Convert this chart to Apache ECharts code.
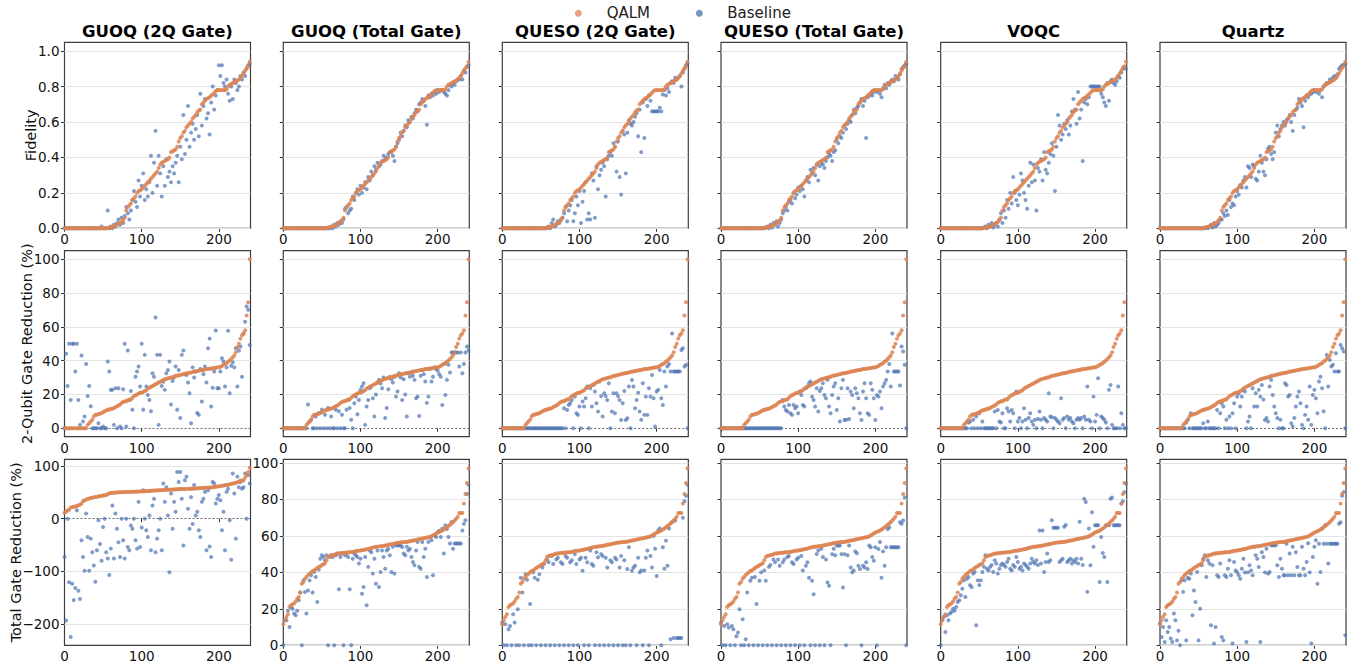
<!DOCTYPE html>
<html>
<head>
<meta charset="utf-8">
<script src="https://cdn.jsdelivr.net/npm/echarts@6/dist/echarts.min.js"></script>
<style>
  html, body { margin: 0; padding: 0; background: #fff; }
  #chart { width: 1355px; height: 663px; }
</style>
</head>
<body>
<div id="chart"></div>
<script>
// circuits are sorted by QALM value, one value every 2nd circuit index
const STEP = 2;

const methods = ['GUOQ (2Q Gate)', 'GUOQ (Total Gate)', 'QUESO (2Q Gate)', 'QUESO (Total Gate)', 'VOQC', 'Quartz'];
const rowLabels = ['Fidelity', '2-Qubit Gate Reduction (%)', 'Total Gate Reduction (%)'];
const legendNames = ['QALM', 'Baseline'];

const xTicks = [0, 100, 200];
const fidTicks = [0, 0.2, 0.4, 0.6, 0.8, 1.0];
const redTicks = [0, 20, 40, 60, 80, 100];
const totTicksWide = [-200, -100, 0, 100];

// ---- Fidelity ----
const fidQalm = [
  0,0,0,0,0,0,0,0,0,0,
  0,0,0,0,0,0,0,0,0,0,
  0,0,0,0,0,0,0,0,0.002,0.004,
  0.006,0.008,0.01,0.015,0.02,0.025,0.03,0.035,0.045,0.06,
  0.1,0.12,0.13,0.14,0.16,0.17,0.18,0.2,0.21,0.215,
  0.22,0.23,0.24,0.25,0.26,0.27,0.28,0.29,0.3,0.31,
  0.32,0.34,0.36,0.37,0.375,0.38,0.385,0.39,0.4,0.43,
  0.435,0.44,0.445,0.46,0.49,0.51,0.52,0.54,0.55,0.57,
  0.58,0.59,0.6,0.62,0.63,0.64,0.655,0.665,0.67,0.7,
  0.71,0.72,0.73,0.735,0.74,0.75,0.755,0.765,0.775,0.78,
  0.78,0.78,0.78,0.78,0.78,0.785,0.8,0.81,0.815,0.82,
  0.825,0.83,0.835,0.84,0.85,0.86,0.875,0.89,0.905,0.915,
  0.94
];
const fidGuoq2q = [
  0,0,0,0,0,0,0,0,0,0,
  0,0,0,0,0,0,0,0,0,0,
  0,0,0,0,0.01,0,0,0,0.1,0,
  0.01,0,0.02,0.01,0.03,0.05,0.02,0.06,0.03,0.07,
  0.12,0.085,0.05,0.1,0.16,0.21,0.15,0.12,0.27,0.18,
  0.24,0.31,0.16,0.22,0.18,0.26,0.41,0.2,0.37,0.55,
  0.24,0.41,0.31,0.18,0.35,0.24,0.39,0.29,0.32,0.26,
  0.35,0.31,0.37,0.41,0.26,0.46,0.39,0.64,0.42,0.5,
  0.69,0.46,0.54,0.59,0.5,0.56,0.64,0.52,0.76,0.58,
  0.69,0.73,0.62,0.65,0.53,0.71,0.8,0.67,0.75,0.78,
  0.92,0.86,0.92,0.82,0.8,0.84,0.76,0.72,0.8,0.73,
  0.84,0.82,0.78,0.8,0.86,0.84,0.88,0.86,0.9,0.92,
  0.93
];
const fidGuoqTot = [
  0,0,0,0,0,0,0,0,0,0,
  0,0,0,0,0,0,0,0,0,0,
  0,0,0,0,0,0,0,0,0,0,
  0,0.01,0,0.02,0.01,0.03,0.02,0.04,0.03,0.05,
  0.11,0.12,0.085,0.1,0.11,0.18,0.16,0.2,0.22,0.19,
  0.24,0.2,0.23,0.26,0.22,0.29,0.27,0.32,0.3,0.35,
  0.33,0.37,0.35,0.36,0.38,0.41,0.39,0.4,0.42,0.43,
  0.43,0.41,0.38,0.46,0.48,0.5,0.54,0.52,0.55,0.58,
  0.57,0.61,0.6,0.63,0.62,0.65,0.67,0.66,0.7,0.71,
  0.73,0.72,0.69,0.585,0.75,0.74,0.76,0.75,0.77,0.76,
  0.78,0.77,0.78,0.78,0.77,0.76,0.75,0.78,0.81,0.8,
  0.82,0.81,0.83,0.84,0.84,0.86,0.84,0.89,0.88,0.91,
  0.92
];
const fidQueso2q = [
  0,0,0,0,0,0,0,0,0,0,
  0,0,0,0,0,0,0,0,0,0,
  0,0,0,0,0,0,0,0,0,0,
  0.01,0,0.03,0.05,0.01,0.02,0.04,0.03,0.05,0.06,
  0.085,0.12,0.04,0.1,0.13,0.16,0.04,0.085,0.18,0.13,
  0.21,0.03,0.15,0.21,0.26,0.05,0.085,0.05,0.31,0.27,
  0.06,0.35,0.22,0.3,0.33,0.37,0.35,0.18,0.39,0.41,
  0.43,0.41,0.48,0.46,0.32,0.49,0.29,0.19,0.55,0.53,
  0.31,0.54,0.61,0.59,0.58,0.6,0.63,0.65,0.52,0.67,
  0.43,0.71,0.51,0.73,0.69,0.75,0.72,0.66,0.66,0.66,
  0.66,0.66,0.68,0.66,0.755,0.78,0.75,0.79,0.77,0.82,
  0.83,0.82,0.85,0.84,0.85,0.86,0.8,0.88,0.9,0.92,
  0.93
];
const fidQuesoTot = [
  0,0,0,0,0,0,0,0,0,0,
  0,0,0,0,0,0,0,0,0,0,
  0,0,0,0,0,0,0,0,0,0.005,
  0.01,0,0.02,0.005,0.03,0.02,0.04,0.01,0.03,0.05,
  0.085,0.1,0.12,0.1,0.15,0.16,0.14,0.2,0.17,0.19,
  0.23,0.21,0.24,0.22,0.18,0.27,0.29,0.26,0.33,0.31,
  0.34,0.3,0.36,0.27,0.35,0.37,0.36,0.34,0.38,0.4,
  0.42,0.41,0.38,0.43,0.44,0.5,0.48,0.52,0.51,0.54,
  0.58,0.56,0.59,0.61,0.6,0.64,0.67,0.65,0.68,0.69,
  0.71,0.73,0.69,0.72,0.51,0.74,0.75,0.76,0.75,0.77,
  0.78,0.77,0.78,0.76,0.74,0.79,0.81,0.79,0.82,0.81,
  0.83,0.84,0.83,0.86,0.85,0.84,0.87,0.9,0.91,0.92,
  0.93
];
const fidVoqc = [
  0,0,0,0,0,0,0,0,0,0,
  0,0,0,0,0,0,0,0,0,0,
  0,0,0,0,0,0,0,0,0.005,0.01,
  0,0.02,0.01,0.03,0.005,0.02,0.03,0.01,0.05,0.085,
  0.03,0.1,0.06,0.16,0.11,0.2,0.14,0.29,0.2,0.16,
  0.13,0.19,0.31,0.27,0.2,0.16,0.11,0.24,0.37,0.26,
  0.36,0.27,0.1,0.34,0.32,0.39,0.27,0.43,0.33,0.31,
  0.37,0.42,0.48,0.41,0.21,0.46,0.64,0.58,0.5,0.53,
  0.59,0.56,0.61,0.53,0.58,0.66,0.73,0.67,0.59,0.77,
  0.62,0.67,0.38,0.71,0.73,0.7,0.74,0.8,0.8,0.8,
  0.8,0.8,0.8,0.8,0.76,0.74,0.71,0.69,0.82,0.72,
  0.83,0.84,0.82,0.81,0.83,0.86,0.85,0.88,0.9,0.91,
  0.9
];
const fidQuartz = [
  0,0,0,0,0,0,0,0,0,0,
  0,0,0,0,0,0,0,0,0,0,
  0,0,0,0,0,0,0,0,0,0,
  0.005,0,0.01,0.02,0.005,0.03,0.01,0.02,0.03,0.05,
  0.05,0.085,0.07,0.1,0.075,0.16,0.12,0.14,0.13,0.18,
  0.21,0.19,0.245,0.23,0.27,0.29,0.23,0.35,0.34,0.29,
  0.36,0.35,0.28,0.27,0.32,0.41,0.37,0.32,0.3,0.39,
  0.45,0.46,0.42,0.39,0.43,0.54,0.58,0.52,0.56,0.58,
  0.6,0.58,0.61,0.62,0.64,0.6,0.55,0.64,0.67,0.68,
  0.73,0.71,0.69,0.57,0.72,0.75,0.74,0.76,0.76,0.77,
  0.78,0.77,0.78,0.76,0.78,0.74,0.8,0.81,0.82,0.82,
  0.84,0.83,0.85,0.86,0.85,0.87,0.9,0.91,0.92,0.92,
  0.93
];

// ---- 2-qubit gate reduction (%) ----
const twoqQalm = [
  0,0,0,0,0,0,0,0,0,0,
  0,0,0,0,0,2,3,4,5,7,
  8,8,8.5,8.5,9,9.5,10,10.5,11,11,
  11.5,11.5,12,12.5,13,13.5,14,15,15.5,16,
  16,16.5,17,17,18,19,19.5,20,20.5,21,
  21,21.5,22,22.5,23.5,24,24.5,25,25.5,26,
  26.5,27,27.5,28,28.5,29,29.2,29.5,29.7,30,
  30.2,30.5,31,31,31.3,31.5,31.8,32,32.2,32.5,
  32.5,32.8,33,33.2,33.5,33.5,33.8,34,34.2,34.5,
  34.5,34.8,35,35,35.2,35.3,35.5,35.6,35.8,36,
  36,36.3,36.8,37.5,38,38.5,39.5,40,41,42,
  43,45,48,50,53,55,56,58,66.7,74.5,
  100
];
const twoqGuoq2q = [
  0,44,25,50,16.7,50,50,33.5,50,16.7,
  2,43,4,7,38,19,25,13,0,0,
  0,0,3,0,0,1,0,0,39.5,33.5,
  22.7,22.7,2,23.7,0,23.7,1,0,23,50,
  1,46,16.7,22,11,0,30.5,33.5,36.5,24.7,
  50,11,43.4,24.7,19.7,16.7,10,32.5,30.5,65.5,
  43.4,2,43.4,25,27.5,22.7,32.5,34.5,39.5,14,
  28,30,36.5,11,34.5,6,43.4,46,32,31.5,
  27,20.7,3,36,30,33.5,9,8,35,15.8,
  32,36.5,27,47.3,53,12.8,24,33.5,57.8,23.7,
  23.7,33.5,41.4,39.5,24.7,36,57.6,20.7,37,39,
  36,47.3,24.7,46,48.3,30.5,56,63,72,70,
  49.3
];
const twoqGuoqTot = [
  0,0,0,0,0,0,0,0,0,0,
  0,0,0,0,0,0,14,4,5,0,
  0,7,0,9,0,11,0,8,0,12,
  0,7,0,0,11,0,10,0,8,0,
  0,11,16.7,12,5,0,14.8,18.7,8.3,16.7,
  22.7,24.7,26.6,2,12.8,16.7,23.7,24.7,17.7,7,
  20,27,28.6,26.5,23.7,30,6,12,23,30.5,
  29,27,30.5,18.7,21.7,32.5,30,16.7,29,20,
  7,32.5,30.5,33,31,28.6,17.7,18.7,7.3,31,
  34.5,32,27.6,15,18.7,35,27.6,30.5,36,35,
  34,32,30.5,13.8,38,19.7,28.6,37.5,33,44.8,
  44.8,44.8,44.8,44.8,36.5,44.8,32.5,38,44.8,48.3,
  46
];
const twoqQueso2q = [
  0,0,0,0,0,0,0,0,0,0,
  0,0,0,0,0,0,0,0,0,0,
  0,0,0,0,0,0,0,0,0,0,
  0,0,0,0,0,0,0,0,0,0,
  11.8,0,10.8,13.8,14.8,16.7,0,18.7,8.9,7.9,
  12.8,0,15.8,12.8,17.7,24.7,0,23.7,12.8,25.6,
  21.7,14.8,9.9,27.6,19,6.9,20.7,19,16.7,26.6,
  0,9.9,20.7,8.9,20.7,19,16.7,4.9,14.8,22,
  4.9,5.9,24.7,0,28.6,24.7,11.8,16.7,21,9.9,
  5,26.6,7.9,18.7,7.9,23.7,18.7,31.5,17.7,1,
  21.7,22.7,34.5,17.7,13.8,33.5,24.7,36.5,38,33.5,
  56,33.5,33.5,33.5,33.5,33.5,46.3,47.3,36.5,37.5,
  0
];
const twoqQuesoTot = [
  0,0,0,0,0,0,0,0,0,0,
  0,0,0,0,0,0,0,0,0,0,
  0,0,0,0,0,0,0,0,0,0,
  0,0,0,0,0,0,0,0,0,0,
  16.7,12.8,10.8,9.9,13.8,8.9,7.9,13.8,11.8,12.8,
  8.9,21.7,19.7,13.8,12.8,23.7,24.7,26.6,27.6,18.7,
  16.7,12.8,23.7,9.9,22,23.7,26.6,19.7,17.7,28.6,
  12.8,8.9,19.7,24.7,26.6,10.8,17.7,4,23.7,28.6,
  4.9,5,23.7,5.5,21.7,19.7,11.8,23.7,20.7,17.7,
  8.9,4.9,21.7,26.6,17.7,8.9,7.9,26.6,22.7,17.7,
  4.9,19.7,18.7,21.7,11.8,24.7,26.6,28.6,33.5,38,
  24.7,56,33.5,33.5,33.5,33.5,25.3,48.3,45.4,37.5,
  0
];
const twoqVoqc = [
  0,0,0,0,0,0,0,0,0,0,
  0,0,0,0,0,0,0,0,3.4,4,
  0,5,0,7,0,8.9,0,4,0,0,
  0,0,0,0,0,9.9,0,10.8,4,3.4,
  8.9,0,0,11.8,9.9,4,10.8,8.9,0,21.7,
  4,6,0,4,11.8,5,0,6,8.9,4,
  2,5,0,5.5,9.9,5,0,6,5,4,
  20.7,7,6.5,0,6,5,4,3,17.7,5,
  6,0,7,5,6,4,3,0,5,6,
  5,6,0,7,5,24.7,5,4,0,18.7,
  4,7.9,29.6,0,7,6,5,3.4,0,22.7,
  25.6,2,0,0,0,24.7,0,8.9,2,0,
  0
];
const twoqQuartz = [
  0,0,0,0,0,0,0,0,0,0,
  0,0,0,0,0,0,0,3.4,5,0,
  8.9,0,0,0,0,0,0,0,3,0,
  0,4,0,0,0,0,0,10.8,0,8.9,
  14.8,12.8,0,5,0,7,0,8.9,14.8,0,
  18.7,20.7,12.8,18.7,22.7,21.7,0,4,7,0,
  23.7,12.8,20.7,12.8,22.7,18.7,25.6,17,4.9,6,
  4,24.7,28.6,19.7,12.8,8.9,6,0,5,0,
  0,26.6,25.6,18.7,19.7,3,1,6,12.8,18.7,
  21.7,14.8,2,0,7.9,12.8,5,24.7,2,19.7,
  22.7,17.7,8.9,27.6,30.5,23.7,10,0,43.4,24.7,
  40.4,36.5,37.5,33.5,44.4,33.5,33.5,49.3,47.3,45.4,
  0
];

// ---- Total gate reduction (%) ----
const totQalm = [
  11.5,13.7,15.5,17,21,22,22.5,23,24,25.5,
  26.5,29,33.8,34.7,36.5,37.5,38.5,39.3,40,40.8,
  41,41.7,42.4,43,43.3,44,44.5,45,46.6,48.4,
  49,49.2,49.4,49.7,50,50.3,50.4,50.5,50.6,50.7,
  50.8,50.9,51,51,51.1,51.2,51.4,51.6,51.8,51.9,
  52,52.2,52.3,52.5,52.7,52.8,53.1,53.3,53.6,53.8,
  54,54.1,54.2,54.3,54.4,54.5,54.7,54.9,55.1,55.3,
  55.4,55.6,55.8,56,56.2,56.3,56.4,56.5,56.6,56.7,
  56.7,56.9,57.1,57.3,57.5,57.6,57.8,58,58.2,58.4,
  58.5,58.7,58.9,59.1,59.3,59.4,59.8,60.2,60.8,61.3,
  61.8,62.2,62.6,63,63.5,64,64.7,65.4,66.1,66.8,
  67.6,68.4,69.4,70.5,72.6,72.6,72.6,77.7,83,89,
  97
];
const totGuoq2q = [
  -73,-194,0,-121,-225,-124,-155,-132,16,-137,
  -153,-41,-73,-99,10,-35,-99,-38,-64,-89,
  -120,-60,-3,-48,-80,-16,0,-64,-76,-107,
  -57,25,-76,10,-19,-45,-73,0,-41,-76,
  0,-54,-60,-13,-19,0,-41,-57,32,-54,
  -17,54,0,-22,-35,6,-60,25,38,-64,
  -38,-22,0,-60,67,32,60,6,-102,48,
  -19,32,13,89,70,89,38,-51,73,80,
  19,-19,41,-10,64,6,13,-22,-35,32,
  38,51,-60,54,-53,-73,70,67,29,38,
  45,35,-22,13,-60,51,57,-3,-78,86,
  48,-38,80,60,70,57,60,86,0,83,
  67
];
const totGuoqTot = [
  0,13.7,13.7,19,10,21,20,17.4,16.5,19,
  24.7,29,0,35.6,29.2,17.4,30,35.6,38.4,29,
  40.2,37.5,23.8,41.5,47.5,49.4,48.4,46.6,49.4,0,
  48.4,49.4,48.4,0,49.4,50.3,30.7,48.4,50.3,0,
  49.4,50.3,48.4,30.7,0,47.5,50.3,49.4,48.4,44.8,
  47.5,28.3,32,48.4,22,43,52,51,39.3,47.5,
  33.8,52,32,40.2,52,48.4,42,52,53,49.4,
  40.2,54,39.3,54.8,54.8,54.8,54.8,53.9,50.3,49.4,
  54,52,53,48.4,45.7,43.9,52,56.7,43,42,
  56.7,48.4,53,37.5,56.7,59.4,57.6,38.4,60.3,59.4,
  62,62.8,59.4,64,50.3,65.8,63.8,59.4,55.8,67.6,
  53,55.8,55.8,55.8,55.8,55.8,63,66.7,68.6,83,
  88
];
const totQueso2q = [
  12.5,0,11.6,0,8.8,10.6,0,17,12.5,0,
  19.8,0,37,29,0,39,36,0,22.6,0,
  40,37,0,36,39,0,42.7,44.6,0,47,
  45.5,0,49,44.6,0,47,48,0,45.5,44.6,
  0,49,48,0,45.5,46.6,0,50,44.6,0,
  47,48,40.9,0,48,45.5,0,52,44.6,43.6,
  0,51,48.3,0,50,49,0,48,42.7,0,
  46.6,45.5,0,48,47,0,42.7,49,0,46.6,
  0,41.8,53.8,0,40.9,42.7,43.6,0,48,40,
  41,0,41,48,52,0,49,42.7,60,53,
  38,63,64,0,53.8,42,57.4,43.6,64,3.3,
  67.5,4,68.4,4,4,4,4,70,79,82,
  88
];
const totQuesoTot = [
  12.5,0,10.6,0,11.6,9.7,0,10.6,8.8,0,
  5,7,19.8,0,14.3,0,3.3,29,0,35.4,
  37,0,37.5,22.6,0,35.4,40,0,41,35.4,
  0,43,44,0,47,45.5,0,47,43.6,0,
  45.5,47,0,48.4,49,0,45.5,44.6,0,47,
  48,0,49,41,0,43.6,45.5,37,0,35.4,
  28,0,50,52,0,53,48.4,0,47,34.5,
  32.7,0,50,53,49.4,54.7,54.7,54.7,50,31.7,
  50,0,49.4,54.7,42.7,40,41,51.5,50.5,43.6,
  41.8,0,43.6,42.7,45.5,41.8,54.7,53.8,48.4,46.4,
  53.8,0,52.8,56.7,37,51.5,43.6,53.8,63.8,64.7,
  53.8,53.8,53.8,53.8,53.8,53.8,67.5,66.7,68.4,81,
  0
];
const totVoqc = [
  0,13.7,15.5,7.3,16.5,13.7,17.4,18.3,20,19,
  21,23.8,24.7,27.4,31,35.6,26.5,36.5,37.5,33,
  32,39.3,40.2,11,35.6,33,35.6,40.2,43,49.4,
  42,41,43,44,40.2,46.6,44.8,39.3,42,44,
  44.8,44,43,45.7,47.5,42,41,44,43,48.4,
  45.7,42,43,41,44.8,44,43,42,44.8,47.5,
  45.7,44.8,46.6,44,63,44.8,63,40.2,45.7,50.3,
  45.7,46.6,68.6,64.5,64.5,64.5,64.5,45.7,46.6,47.5,
  65,66,45.7,46.6,47.5,44.8,46.6,45.7,47.5,44.8,
  67.7,47.5,44,80.4,78.6,29.3,64,43.9,73,54,
  65.8,65.8,65.8,34.7,59.4,50.6,48.4,65.8,34.7,65.8,
  80.4,81,65.8,65.8,65.8,65.8,65.8,77.7,79,84,
  88.7
];
const totQuartz = [
  11.9,4.6,10,1.8,13.7,7.3,10,3.7,1.8,17.4,
  13.7,2.7,8,0,35.6,29.3,35.6,2.7,37,36.5,
  39.3,16.5,30,23.8,40.2,2.7,20,43.9,47.5,49.4,
  37.5,46.6,44.8,11,43.9,1,10,38.4,37.5,44.8,
  4.6,2.7,38.4,37.5,42,46.6,38.4,1,45.7,41,
  40,38.4,36.5,42,47.5,40,1.8,40,43.9,41,
  38.4,54,49.4,47.5,42.9,1.8,51,48.4,40,53,
  39.3,40.2,54.8,54.8,54.8,54.8,43.9,37.5,47.5,42,
  38.4,38.4,55.7,38.4,50.3,38.4,54,38.4,51,42.9,
  38.4,38.4,54,42,38.4,45.7,56,40,1,48.4,
  54,57.6,33.8,55.7,40.2,64,55.7,65.8,55.7,44.8,
  55.7,55.7,55.7,55.7,55.7,55.7,66.7,67.5,82,84,
  5.5
];

const qalmRows = [fidQalm, twoqQalm, totQalm];
const baseRows = [
  [fidGuoq2q, fidGuoqTot, fidQueso2q, fidQuesoTot, fidVoqc, fidQuartz],
  [twoqGuoq2q, twoqGuoqTot, twoqQueso2q, twoqQuesoTot, twoqVoqc, twoqQuartz],
  [totGuoq2q, totGuoqTot, totQueso2q, totQuesoTot, totVoqc, totQuartz]
];

const FONT = 'DejaVu Sans';
const ORANGE = '#dd8452';
const BLUE = '#4c72b0';
const colLeft = [64.5, 283.3, 502.3, 721, 940.7, 1160];
const rowTop = [42.3, 250.7, 459.3];
const W = 186, H = 186;
const nameX = [30.5, 27, 16];

function toPoints(vals) {
  return vals.map((v, k) => [k * STEP, v]);
}

function yConf(r, c) {
  if (r === 0) return { min: 0, max: 1.05, ticks: fidTicks, fmt: v => v.toFixed(1), zero: false };
  if (r === 1) return { min: -5, max: 105, ticks: redTicks, fmt: v => String(v), zero: true };
  if (c === 0) return { min: -241, max: 113, ticks: totTicksWide, fmt: v => String(v).replace('-', '\u2212'), zero: true };
  return { min: 0, max: 102, ticks: redTicks, fmt: v => String(v), zero: false };
}

const grids = [], xAxes = [], yAxes = [], series = [], graphics = [];

for (let r = 0; r < 3; r++) {
  for (let c = 0; c < 6; c++) {
    const k = r * 6 + c;
    const yc = yConf(r, c);
    const showY = c === 0 || (r === 2 && c === 1);

    grids.push({
      left: colLeft[c], top: rowTop[r], width: W, height: H,
      show: true, borderColor: '#3d3d3d', borderWidth: 1.2,
      backgroundColor: 'rgba(0,0,0,0)', outerBoundsMode: 'none'
    });
    xAxes.push({
      type: 'value', gridIndex: k, min: 0, max: 241,
      axisLine: { show: false }, splitLine: { show: false },
      axisTick: { show: true, customValues: xTicks, length: 3.5, lineStyle: { color: '#333' } },
      axisLabel: { customValues: xTicks, fontSize: 13.5, fontFamily: FONT, color: '#111', margin: 4 }
    });
    yAxes.push({
      type: 'value', gridIndex: k, min: yc.min, max: yc.max,
      axisLine: { show: false }, splitLine: { show: false },
      axisTick: { show: true, customValues: yc.ticks, length: 3.5, lineStyle: { color: '#333' } },
      axisLabel: { show: showY, customValues: yc.ticks, formatter: yc.fmt, fontSize: 13.5, fontFamily: FONT, color: '#111', margin: 5 }
    });

    // light grid lines + dashed zero line
    const lines = yc.ticks
      .filter(v => !(yc.zero && v === 0))
      .map(v => ({ yAxis: v, lineStyle: { color: '#e4e4e4', width: 1, type: 'solid' } }));
    if (yc.zero) {
      lines.push({ yAxis: 0, lineStyle: { color: '#444', width: 0.8, type: [2, 2] } });
    }

    let qalm = qalmRows[r];
    if (r === 1 && c === 4) qalm = qalm.slice(0, -1);

    series.push({
      name: 'Baseline', type: 'scatter', xAxisIndex: k, yAxisIndex: k,
      data: toPoints(baseRows[r][c]), symbolSize: 4, z: 2,
      itemStyle: { color: BLUE, opacity: 0.7 },
      markLine: {
        silent: true, z: 1, symbol: ['none', 'none'], animation: false,
        label: { show: false }, emphasis: { disabled: true }, data: lines
      }
    });
    series.push({
      name: 'QALM', type: 'scatter', xAxisIndex: k, yAxisIndex: k,
      data: toPoints(qalm), symbolSize: 4, z: 3,
      itemStyle: { color: ORANGE, opacity: 0.85 }
    });
  }
}

methods.forEach((m, c) => {
  graphics.push({
    type: 'text', x: colLeft[c] + W / 2, y: 31.5,
    style: { text: m, font: 'bold 16.5px "DejaVu Sans"', fill: '#000', textAlign: 'center', textVerticalAlign: 'middle' }
  });
});
rowLabels.forEach((t, r) => {
  graphics.push({
    type: 'text', x: nameX[r], y: rowTop[r] + H / 2, rotation: Math.PI / 2,
    style: { text: t, font: '14.5px "DejaVu Sans"', fill: '#111', textAlign: 'center', textVerticalAlign: 'middle' }
  });
});

// legend drawn by hand so the marker/label spacing matches
const legendDotX = [578.3, 699.3];
const legendTextX = [606.7, 727.3];
[ORANGE, BLUE].forEach((col, j) => {
  graphics.push({
    type: 'circle', shape: { cx: legendDotX[j], cy: 13.3, r: 3.5 },
    style: { fill: col, opacity: 0.75 }
  });
  graphics.push({
    type: 'text', x: legendTextX[j], y: 13.3,
    style: { text: legendNames[j], font: '15px "DejaVu Sans"', fill: '#222', textAlign: 'left', textVerticalAlign: 'middle' }
  });
});

const chart = echarts.init(document.getElementById('chart'), null, { renderer: 'svg' });
chart.setOption({
  animation: false,
  backgroundColor: '#fff',
  grid: grids,
  xAxis: xAxes,
  yAxis: yAxes,
  series: series,
  graphic: graphics
});
</script>
</body>
</html>
